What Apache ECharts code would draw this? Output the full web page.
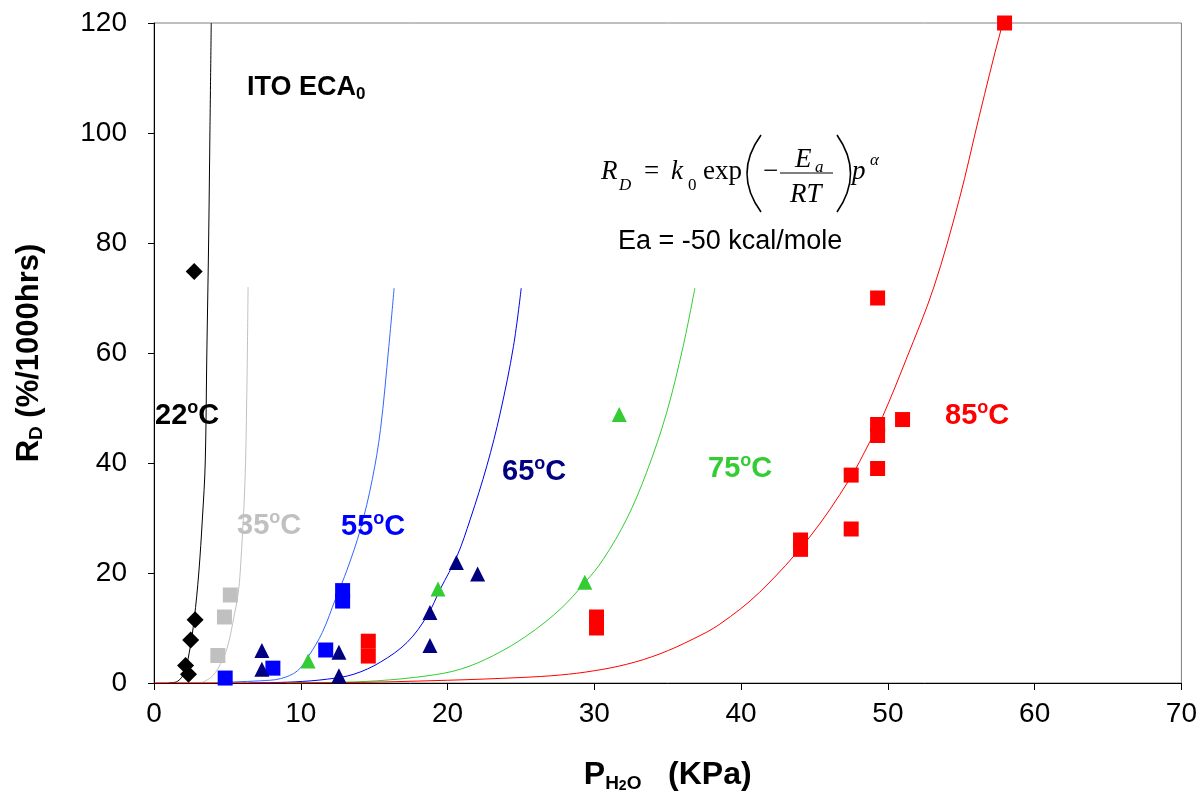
<!DOCTYPE html>
<html>
<head>
<meta charset="utf-8">
<script src="https://cdn.jsdelivr.net/npm/echarts@6/dist/echarts.min.js"></script>
<style>
  html, body { margin: 0; padding: 0; background: #ffffff; }
  #chart { width: 1200px; height: 798px; }
</style>
</head>
<body>
<div id="chart"></div>
<script>
// Measured degradation rates, [P_H2O (kPa), R_D (%/1000 hrs)]
const pts22 = [[2.74, 74.8], [2.8, 11.5], [2.5, 7.8], [2.15, 3.2], [2.35, 1.6]];
const pts35 = [[5.2, 16.0], [4.8, 12.0], [4.35, 5.0]];
const pts55 = [[4.85, 0.9], [8.1, 2.7], [11.7, 6.0], [12.85, 16.8], [12.85, 14.9]];
const pts65 = [[7.35, 5.9], [7.35, 2.5], [12.6, 5.6], [12.6, 1.3], [18.8, 6.8], [18.8, 12.8], [20.6, 21.9], [22.05, 19.8]];
const pts75 = [[10.5, 4.0], [19.35, 17.1], [29.35, 18.3], [31.7, 48.8]];
const pts85 = [[14.6, 7.6], [14.6, 4.9], [30.15, 12.0], [30.15, 10.0], [44.05, 26.0], [44.05, 24.3],
               [47.5, 37.8], [47.5, 28.0], [49.3, 70.0], [49.3, 47.0], [49.3, 45.0], [49.3, 39.0],
               [51.0, 47.9], [57.95, 120.0]];

// Model curves R_D = k0 exp(-Ea/RT) p^alpha at each temperature
const fit22 = [[1.0, 0], [1.6, 0.3], [2.05, 1.8], [2.4, 5.5], [2.74, 11.6], [3.05, 20], [3.3, 30],
               [3.49, 40], [3.6, 60], [3.72, 80], [3.81, 100], [3.9, 120]];
const fit35 = [[3.2, 0], [4.0, 1.3], [4.67, 4.2], [5.05, 7.0], [5.46, 12.2], [5.73, 16.2], [5.87, 20],
               [6.19, 36], [6.32, 52], [6.41, 72]];
const fit55 = [[4.5, 0], [5.5, 0.2], [7.27, 0.4], [8.63, 0.8], [9.77, 2.2], [10.56, 5.0], [11.47, 9.2],
               [12.37, 15.3], [13.17, 20.7], [14.07, 28.0], [14.87, 37.0], [15.43, 46.1], [16.0, 61.2], [16.36, 71.8]];
const fit65 = [[6.5, 0], [9.54, 0.2], [11.81, 0.7], [13.62, 1.6], [15.43, 3.8], [17.25, 7.4], [18.61, 12.2],
               [19.51, 17.1], [20.65, 23.1], [21.55, 29.8], [22.68, 39.5], [23.59, 49.1], [24.49, 61.2], [25.02, 71.8]];
const fit75 = [[9, 0], [12, 0.1], [15.2, 0.4], [18.6, 1.3], [20.87, 2.5], [23.13, 5.0], [25.4, 8.6],
               [27.67, 13.4], [29.37, 18.3], [30.61, 22.5], [32.2, 29.8], [33.56, 38.3], [34.92, 49.1],
               [36.05, 61.2], [36.85, 71.8]];
const fit85 = [[0, 0], [12, 0.05], [20, 0.5], [25, 1.0], [27.67, 1.45], [29.93, 2.2], [32.2, 3.4],
               [34.47, 5.3], [36.73, 8.0], [38.55, 10.7], [41.26, 16.5], [44.66, 26.5], [47.38, 37.0],
               [48.74, 43.7], [49.65, 48.5], [51.24, 58.8], [53.11, 71.8], [54.86, 87.9], [56.22, 103],
               [57.7, 118.7], [57.95, 120]];

// Temperature labels
const tempNames = ['22', '35', '55', '65', '75', '85'];

const SANS = '"Liberation Sans", Arial, sans-serif';
const SERIF = '"Liberation Serif", "Times New Roman", serif';

const C22 = '#000000', C35 = '#c0c0c0', C55 = '#0000ff', C55L = '#3366ff',
      C65 = '#000080', C65L = '#0000ee', C75 = '#33cc33', C85 = '#ff0000';

function fitLine(data, color) {
  return {
    type: 'line', data: data, smooth: 0.35,
    showSymbol: false, symbol: 'none', silent: true, z: 2,
    lineStyle: { color: color, width: 1 }
  };
}
function pointSet(data, symbol, size, color) {
  return {
    type: 'scatter', data: data, symbol: symbol, symbolSize: size, z: 5,
    itemStyle: { color: color, opacity: 1 }
  };
}
function tempLabel(name, color, x, y) {
  return {
    type: 'text', x: x, y: y, z: 20,
    style: {
      text: '{n|' + name + '}{s|o}{n|C}', fill: color, align: 'left', verticalAlign: 'middle',
      rich: {
        n: { fontSize: 29, fontWeight: 'bold', fontFamily: SANS, fill: color, lineHeight: 34 },
        s: { fontSize: 18, fontWeight: 'bold', fontFamily: SANS, fill: color, lineHeight: 14, verticalAlign: 'top' }
      }
    }
  };
}
function mathText(txt, x, y, size, italic) {
  return {
    type: 'text', x: x, y: y, z: 20,
    style: {
      text: txt, fill: '#000', align: 'left', verticalAlign: 'middle',
      font: (italic ? 'italic ' : '') + size + 'px ' + SERIF
    }
  };
}

const chart = echarts.init(document.getElementById('chart'));
chart.setOption({
  animation: false,
  backgroundColor: '#ffffff',
  grid: { left: 154, right: 18, top: 23, bottom: 114, show: true, borderColor: '#808080', borderWidth: 1, backgroundColor: 'transparent' },
  xAxis: {
    type: 'value', min: 0, max: 70, interval: 10,
    axisLine: { show: true, onZero: false, lineStyle: { color: '#000', width: 1 } },
    axisTick: { show: true, inside: false, length: 7, lineStyle: { color: '#000' } },
    splitLine: { show: false },
    axisLabel: { color: '#000', fontSize: 28, fontFamily: SANS, margin: 17 },
    name: '{b|P}{s|H}{t|2}{s|O}{b|   (KPa)}',
    nameLocation: 'middle', nameGap: 74,
    nameTextStyle: {
      rich: {
        b: { fontSize: 32, fontWeight: 'bold', fontFamily: SANS, color: '#000', lineHeight: 36 },
        s: { fontSize: 19, fontWeight: 'bold', fontFamily: SANS, color: '#000', lineHeight: 24, verticalAlign: 'bottom' },
        t: { fontSize: 14, fontWeight: 'bold', fontFamily: SANS, color: '#000', lineHeight: 14, verticalAlign: 'bottom' }
      }
    }
  },
  yAxis: {
    type: 'value', min: 0, max: 120, interval: 20,
    axisLine: { show: true, onZero: false, lineStyle: { color: '#000', width: 1 } },
    axisTick: { show: true, inside: false, length: 6, lineStyle: { color: '#000' } },
    splitLine: { show: false },
    axisLabel: { color: '#000', fontSize: 28, fontFamily: SANS, margin: 27 },
    name: '{b|R}{s|D}{b| (%/1000hrs)}',
    nameLocation: 'middle', nameGap: 108, nameRotate: 90,
    nameTextStyle: {
      rich: {
        b: { fontSize: 31, fontWeight: 'bold', fontFamily: SANS, color: '#000', lineHeight: 34 },
        s: { fontSize: 19, fontWeight: 'bold', fontFamily: SANS, color: '#000', lineHeight: 19, verticalAlign: 'bottom' }
      }
    }
  },
  series: [
    fitLine(fit22, C22), fitLine(fit35, C35), fitLine(fit55, C55L),
    fitLine(fit65, C65L), fitLine(fit75, C75), fitLine(fit85, C85),
    pointSet(pts22, 'diamond', 17, C22),
    pointSet(pts35, 'rect', 15, C35),
    pointSet(pts55, 'rect', 15, C55),
    pointSet(pts65, 'triangle', 15, C65),
    pointSet(pts75, 'triangle', 15, C75),
    pointSet(pts85, 'rect', 15, C85)
  ],
  graphic: [
    // sample title
    {
      type: 'text', x: 247, y: 88, z: 20,
      style: {
        text: '{a|ITO ECA}{b|0}', align: 'left', verticalAlign: 'middle',
        rich: {
          a: { fontSize: 27, fontWeight: 'bold', fontFamily: SANS, fill: '#000', lineHeight: 30 },
          b: { fontSize: 17, fontWeight: 'bold', fontFamily: SANS, fill: '#000', lineHeight: 18, verticalAlign: 'bottom' }
        }
      }
    },
    tempLabel(tempNames[0], C22, 155, 416),
    tempLabel(tempNames[1], C35, 237, 526),
    tempLabel(tempNames[2], C55, 341, 527),
    tempLabel(tempNames[3], C65, 502, 472),
    tempLabel(tempNames[4], C75, 708, 469),
    tempLabel(tempNames[5], C85, 945, 416),
    // rate model
    mathText('R', 601, 172, 27, true),
    mathText('D', 619, 186, 17, true),
    mathText('=', 644, 172, 27, false),
    mathText('k', 671, 172, 27, true),
    mathText('0', 688, 186, 17, false),
    mathText('exp', 703, 172, 27, false),
    mathText('\u2212', 763, 172, 27, false),
    mathText('E', 795, 160, 27, true),
    mathText('a', 815, 168, 17, true),
    mathText('RT', 790, 195, 27, true),
    mathText('p', 852, 172, 27, true),
    mathText('\u03b1', 870, 161, 17, true),
    { type: 'line', z: 20, shape: { x1: 780, y1: 173, x2: 833, y2: 173 }, style: { stroke: '#000', lineWidth: 1.2 } },
    { type: 'bezierCurve', z: 20, shape: { x1: 761, y1: 135, x2: 761, y2: 212, cpx1: 733, cpy1: 173.5 }, style: { stroke: '#000', lineWidth: 1.6, fill: null } },
    { type: 'bezierCurve', z: 20, shape: { x1: 837, y1: 135, x2: 837, y2: 212, cpx1: 864, cpy1: 173.5 }, style: { stroke: '#000', lineWidth: 1.6, fill: null } },
    {
      type: 'text', x: 618, y: 242, z: 20,
      style: { text: 'Ea = -50 kcal/mole', fill: '#000', align: 'left', verticalAlign: 'middle', font: '27px ' + SANS }
    }
  ]
});
</script>
</body>
</html>
